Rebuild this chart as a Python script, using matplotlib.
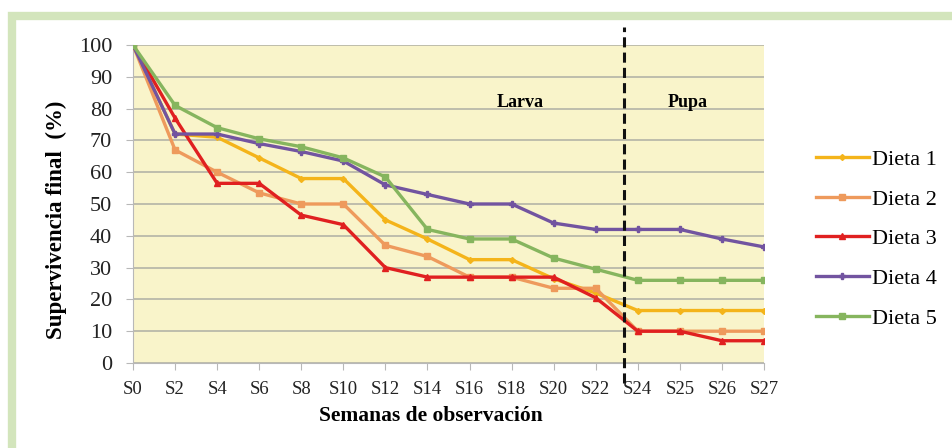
import matplotlib
matplotlib.use("Agg")
import matplotlib.pyplot as plt
from matplotlib.patches import Rectangle

weeks = ["S0", "S2", "S4", "S6", "S8", "S10", "S12", "S14", "S16", "S18",
         "S20", "S22", "S24", "S25", "S26", "S27"]

dieta1 = [100, 72, 71, 64.5, 58, 58, 45, 39, 32.5, 32.5, 26.5, 22, 16.5, 16.5, 16.5, 16.5]
dieta2 = [100, 67, 60, 53.5, 50, 50, 37, 33.5, 27, 27, 23.5, 23.5, 10, 10, 10, 10]
dieta3 = [100, 77, 56.5, 56.5, 46.5, 43.5, 30, 27, 27, 27, 27, 20.5, 10, 10, 7, 7]
dieta4 = [100, 72, 72, 69, 66.5, 63.5, 56, 53, 50, 50, 44, 42, 42, 42, 39, 36.5]
dieta5 = [100, 81, 74, 70.5, 68, 64.5, 58.5, 42, 39, 39, 33, 29.5, 26, 26, 26, 26]

series = ["Dieta 1", "Dieta 2", "Dieta 3", "Dieta 4", "Dieta 5"]
values = [dieta1, dieta2, dieta3, dieta4, dieta5]
colors = ["#f4b41a", "#ee9a5c", "#e02020", "#7254a0", "#86b55e"]
markers = ["D", "s", "^", "P", "s"]
msizes = [3, 4.5, 4.5, 4, 4.5]

SERIF = "Liberation Serif"

fig = plt.figure(figsize=(9.52, 4.48), dpi=100)
fig.patch.set_facecolor("white")

# light green frame (only top and left edges show)
frame = Rectangle((12 / 952, -0.1), 1.1, 1 - 16 / 448 + 0.1, transform=fig.transFigure,
                  fill=False, edgecolor="#d3e5bc", linewidth=6, zorder=0)
fig.add_artist(frame)

ax = fig.add_axes([133 / 952, 1 - 363 / 448, (764 - 133) / 952, (363 - 45) / 448])
ax.set_facecolor("#f9f4ca")

x = list(range(len(weeks)))
for name, vals, c, m, ms in zip(series, values, colors, markers, msizes):
    ax.plot(x, vals, color=c, linewidth=2.4, marker=m, markersize=ms,
            markerfacecolor=c, markeredgecolor=c, label=name, zorder=3)

ax.set_xlim(0, len(weeks) - 1)
ax.set_ylim(0, 100)
ax.set_yticks(range(0, 101, 10))
ax.set_xticks(x)
ax.set_xticklabels(weeks)
ax.grid(axis="y", color="#b4b4a6", linewidth=1.2, zorder=1)
ax.set_axisbelow(True)

for side in ["top", "right"]:
    ax.spines[side].set_visible(False)
ax.spines["left"].set_color("#b8b8b8")
ax.spines["bottom"].set_color("#b8b8b8")
ax.tick_params(axis="both", colors="#b8b8b8", labelcolor="#222222", length=5)
ax.tick_params(axis="y", pad=10)
ax.tick_params(axis="x", pad=8)
for lbl in ax.get_yticklabels():
    lbl.set_fontfamily(SERIF)
    lbl.set_fontsize(16)
for lbl in ax.get_xticklabels():
    lbl.set_fontfamily(SERIF)
    lbl.set_fontsize(13.5)

ax.set_xlabel("Semanas de observación", fontfamily=SERIF, fontsize=15.5,
              fontweight="bold")
ax.xaxis.set_label_coords(0.472, -0.135)
ax.set_ylabel("Supervivencia final  (%)", fontfamily=SERIF, fontsize=16.5,
              fontweight="bold")
ax.yaxis.set_label_coords(-0.105, 0.45)

# larva / pupa boundary
ax.plot([11.68, 11.68], [-0.063, 1.057], color="#111111", linewidth=2.2,
        linestyle=(0, (3.3, 1.7)), transform=ax.get_xaxis_transform(),
        clip_on=False, zorder=4)
ax.text(9.2, 82, "Larva", fontfamily=SERIF, fontweight="bold", fontsize=13,
        ha="center", va="center")
ax.text(13.19, 82, "Pupa", fontfamily=SERIF, fontweight="bold", fontsize=13,
        ha="center", va="center")

leg = ax.legend(loc="center left", bbox_to_anchor=(1.05, 0.39), frameon=False,
                handlelength=2.4, handletextpad=0.14, labelspacing=0.86,
                prop={"family": SERIF, "size": 16})

fig.savefig("out.png", dpi=100, facecolor="white")
